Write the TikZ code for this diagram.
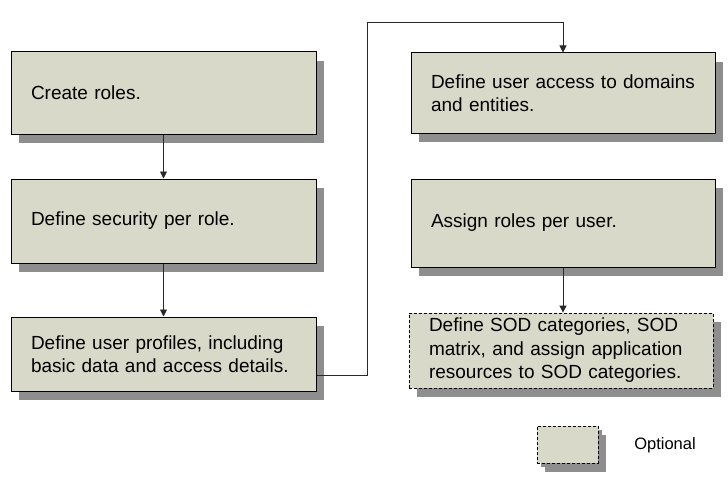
\documentclass[tikz,border=0pt]{standalone}
\usepackage{fontspec}
\setmainfont[WordSpace=0.7]{Liberation Sans}
\usetikzlibrary{shadows,arrows.meta}
\definecolor{boxfill}{RGB}{216,217,200}
\definecolor{shadowgray}{RGB}{142,142,142}
\definecolor{linegray}{RGB}{40,40,40}
\begin{document}
\begin{tikzpicture}[x=1pt,y=-1pt,
  stepbox/.style={draw=black, line width=1pt, fill=boxfill,
    inner xsep=20pt, inner ysep=0pt, align=left, anchor=center,
    font=\fontsize{19}{23.5}\selectfont,
    drop shadow={shadow xshift=8pt, shadow yshift=-9pt, fill=shadowgray, opacity=1}},
  optbox/.style={stepbox, dashed, dash pattern=on 3pt off 2pt, line width=0.8pt},
  conn/.style={draw=linegray, line width=0.9pt, -{Triangle[width=7pt,length=7pt]}}
]
\useasboundingbox (0,0) rectangle (728,495);

% left column
\node[stepbox, minimum width=305pt, minimum height=82pt, text width=265pt] (B1) at (163.5,93) {Create roles.};
\node[stepbox, minimum width=305pt, minimum height=84pt, text width=265pt] (B2) at (163.5,221) {Define security per role.};
\node[stepbox, minimum width=305pt, minimum height=74pt, text width=265pt] (B3) at (163.5,354) {\mbox{Define user profiles, including}\\\mbox{basic data and access details.}};

% right column
\node[stepbox, minimum width=304pt, minimum height=80pt, text width=264pt] (B4) at (563,93) {\mbox{Define user access to domains}\\and entities.};
\node[stepbox, minimum width=304pt, minimum height=88pt, text width=264pt] (B5) at (563,223) {Assign roles per user.};
\node[optbox, minimum width=304pt, minimum height=75pt, text width=264pt] (B6) at (561,350.5) {\mbox{Define SOD categories, SOD}\\\mbox{matrix, and assign application}\\\mbox{resources to SOD categories.}};

% legend
\node[optbox, minimum width=61pt, minimum height=37pt, inner xsep=0pt, text width=0pt,
  drop shadow={shadow xshift=4pt, shadow yshift=-4pt, fill=shadowgray, opacity=1}] (L) at (567.5,444.5) {};
\node[font=\fontsize{16.5}{19}\selectfont, anchor=center] (LT) at (665,445) {Optional};

% connectors
\coordinate (bend) at (367,22);
\draw[conn] (B1.south) -- (B2.north);
\draw[conn] (B2.south) -- (B3.north);
\draw[conn] ([yshift=-21pt]B3.east) -| (bend) -| (B4.north);
\draw[conn] (B5.south) -- (B5.south |- B6.north);
\end{tikzpicture}
\end{document}
